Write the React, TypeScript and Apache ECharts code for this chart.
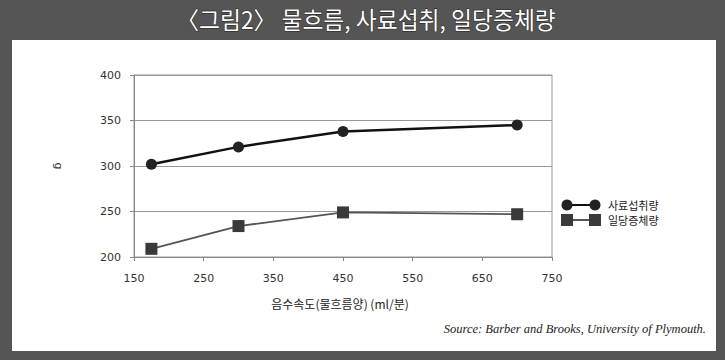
import React, { useEffect, useRef } from "react";
import * as echarts from "echarts";

// Water flow (ml/min) vs feed intake and daily gain (g)
const flowRates = [175, 300, 450, 700];
const feedIntake = [302, 321, 338, 345];
const dailyGain = [209, 234, 249, 247];
const xTicks = { min: 150, max: 750, interval: 100 };
const yTicks = { min: 200, max: 400, interval: 50 };
const seriesNames = ["사료섭취량", "일당증체량"];

const KR = '"Noto Sans CJK KR", "Noto Sans", sans-serif';

export default function App() {
  const ref = useRef<HTMLDivElement>(null);

  useEffect(() => {
    if (!ref.current) return;
    const chart = echarts.init(ref.current, undefined, { renderer: "svg" });

    const legendItem = (y: number, name: string, square: boolean, color: string) => {
      const marker = (cx: number) =>
        square
          ? { type: "rect", shape: { x: cx - 6, y: y - 6, width: 12, height: 12 }, style: { fill: "#3a3a3a" } }
          : { type: "circle", shape: { cx, cy: y, r: 5.5 }, style: { fill: "#222" } };
      return [
        { type: "line", shape: { x1: 567, y1: y, x2: 595, y2: y }, style: { stroke: color, lineWidth: 2 } },
        marker(567),
        marker(595),
        {
          type: "text",
          x: 608,
          y,
          style: { text: name, font: `11px ${KR}`, fill: "#222", textVerticalAlign: "middle" },
        },
      ];
    };

    chart.setOption({
      animation: false,
      backgroundColor: "#555555",
      graphic: [
        { type: "rect", shape: { x: 12, y: 40, width: 704, height: 311 }, style: { fill: "#ffffff" }, z: -10 },
        {
          type: "text",
          x: 366,
          y: 19,
          scaleX: 0.95,
          style: {
            text: "〈그림2〉 물흐름, 사료섭취, 일당증체량",
            font: `24px ${KR}`,
            fill: "#ffffff",
            stroke: "#222",
            lineWidth: 1,
            textAlign: "center",
            textVerticalAlign: "middle",
          },
        },
        ...legendItem(205, seriesNames[0], false, "#111"),
        ...legendItem(220, seriesNames[1], true, "#555"),
        {
          type: "text",
          x: 340,
          y: 303,
          style: {
            text: "음수속도(물흐름양) (ml/분)",
            font: `12px ${KR}`,
            fill: "#222",
            textAlign: "center",
            textVerticalAlign: "middle",
          },
        },
        {
          type: "text",
          x: 706,
          y: 329,
          style: {
            text: "Source: Barber and Brooks, University of Plymouth.",
            font: 'italic 12.5px "Liberation Serif", "DejaVu Serif", serif',
            fill: "#222",
            textAlign: "right",
            textVerticalAlign: "middle",
          },
        },
      ],
      grid: {
        left: 134,
        right: 173,
        top: 75,
        bottom: 103,
        show: true,
        borderColor: "#999",
        borderWidth: 1,
      },
      xAxis: {
        type: "value",
        ...xTicks,
        axisLine: { show: true, lineStyle: { color: "#888" } },
        axisTick: { show: true, length: 4, lineStyle: { color: "#888" } },
        axisLabel: { color: "#333", fontSize: 11, fontFamily: "DejaVu Sans", margin: 16 },
        splitLine: { show: false },
      },
      yAxis: {
        type: "value",
        ...yTicks,
        name: "g",
        nameLocation: "middle",
        nameRotate: -90,
        nameGap: 70,
        nameTextStyle: { color: "#333", fontSize: 11, fontFamily: "DejaVu Sans" },
        axisLine: { show: true, lineStyle: { color: "#888" } },
        axisTick: { show: true, length: 4, lineStyle: { color: "#888" } },
        axisLabel: { color: "#333", fontSize: 11, fontFamily: "DejaVu Sans", margin: 13 },
        splitLine: { show: true, lineStyle: { color: "#999", width: 1 } },
      },
      series: [
        {
          name: seriesNames[0],
          type: "line",
          data: flowRates.map((x, i) => [x, feedIntake[i]]),
          symbol: "circle",
          symbolSize: 11,
          lineStyle: { color: "#111", width: 2.5 },
          itemStyle: { color: "#222" },
        },
        {
          name: seriesNames[1],
          type: "line",
          data: flowRates.map((x, i) => [x, dailyGain[i]]),
          symbol: "rect",
          symbolSize: 12,
          lineStyle: { color: "#555", width: 1.8 },
          itemStyle: { color: "#3a3a3a" },
        },
      ],
    });

    return () => chart.dispose();
  }, []);

  return (
    <div
      ref={ref}
      style={{ position: "fixed", left: 0, top: 0, width: 725, height: 360 }}
    />
  );
}
